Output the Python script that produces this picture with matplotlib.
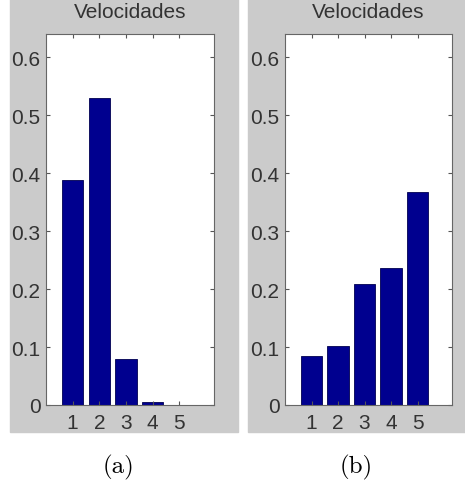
import numpy as np
import matplotlib.pyplot as plt
from matplotlib.patches import Rectangle

# datos
categorias = [1, 2, 3, 4, 5]
vel_a = [0.388, 0.529, 0.079, 0.005, 0.0]
vel_b = [0.084, 0.102, 0.209, 0.236, 0.367]
yticks = [0, 0.1, 0.2, 0.3, 0.4, 0.5, 0.6]
ylabels = ["0", "0.1", "0.2", "0.3", "0.4", "0.5", "0.6"]
titulo = "Velocidades"
subtitulos = ["(a)", "(b)"]

W, H = 465, 485
fig = plt.figure(figsize=(W/100, H/100), dpi=100)
fig.patch.set_facecolor("white")
plt.rcParams['font.family'] = ['Liberation Sans', 'DejaVu Sans']

gris = "#cbcbcb"
azul = "#00008f"

def px(x0, y0, x1, y1):
    # caja en pixeles (origen arriba-izquierda) -> coords de figura
    return [x0/W, 1 - y1/H, (x1-x0)/W, (y1-y0)/H]

# paneles grises de fondo
for (x0, x1) in [(10, 238), (248, 465)]:
    fig.patches.append(Rectangle((x0/W, 1-433/H), (x1-x0)/W, 433/H,
                                 transform=fig.transFigure, color=gris, zorder=-10))

cajas = [px(46, 35, 214, 406), px(285, 35, 452, 406)]
centros = [118, 356]
for caja, datos, sub, cx in zip(cajas, [vel_a, vel_b], subtitulos, centros):
    ax = fig.add_axes(caja)
    ax.set_facecolor("white")
    ax.bar(categorias, datos, width=0.8, color=azul, edgecolor="#000050", linewidth=0.6)
    ax.set_xlim(0, 6.3)
    ax.set_ylim(0, 0.64)
    ax.set_xticks(categorias)
    ax.set_yticks(yticks)
    ax.set_yticklabels(ylabels)
    ax.tick_params(direction="in", length=3, width=0.8, color="#555555",
                   top=True, right=True, labelsize=15, labelcolor="#333333")
    ax.tick_params(axis="x", pad=6)
    ax.tick_params(axis="y", pad=4)
    for s in ax.spines.values():
        s.set_color("#666666")
        s.set_linewidth(0.8)
    x_mid = (caja[0] + caja[2]/2)
    fig.text(x_mid, 1 - 18/H, titulo, ha="center", va="baseline",
             fontsize=15, color="#333333")
    fig.text(cx/W, 1 - 467/H, sub, ha="center", va="center",
             fontsize=18, family="cmr10")

fig.savefig("out.png", dpi=100)
